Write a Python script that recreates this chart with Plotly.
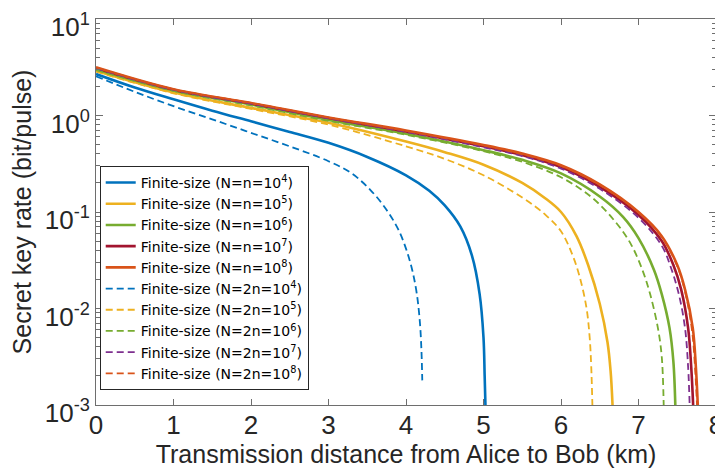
import plotly.graph_objects as go

# ---- data ----
d_n4 = [0, 0.5, 1, 1.5, 2, 2.5, 3, 3.5, 4, 4.3, 4.5, 4.7, 4.85, 4.95, 5.0, 5.015, 5.025]
r_n4 = [2.69, 1.95, 1.47, 1.12, 0.87, 0.676, 0.521, 0.372, 0.24, 0.166, 0.117, 0.0708, 0.0355, 0.0141, 0.005, 0.002, 0.001]

d_n5 = [0, 1, 2, 3, 4, 4.5, 5, 5.5, 5.8, 6.0, 6.2, 6.35, 6.5, 6.6, 6.64, 6.665]
r_n5 = [2.9, 1.73, 1.2, 0.841, 0.537, 0.417, 0.309, 0.2, 0.138, 0.1, 0.0562, 0.0282, 0.0112, 0.00447, 0.00224, 0.001]

d_n6 = [0, 1, 2, 3, 4, 5, 5.5, 6.0, 6.5, 6.8, 7.0, 7.2, 7.3, 7.4, 7.45, 7.475]
r_n6 = [3.0, 1.82, 1.3, 0.9, 0.646, 0.437, 0.347, 0.251, 0.145, 0.0891, 0.0537, 0.0251, 0.0141, 0.0063, 0.00282, 0.001]

d_n7 = [0, 1, 2, 3, 4, 5, 5.5, 6.0, 6.5, 7.0, 7.3, 7.45, 7.55, 7.64, 7.68, 7.705]
r_n7 = [3.09, 1.85, 1.33, 0.94, 0.684, 0.479, 0.389, 0.292, 0.182, 0.0933, 0.0501, 0.0282, 0.0158, 0.0063, 0.0025, 0.001]

d_n8 = [0, 1, 2, 3, 4, 5, 5.5, 6.0, 6.5, 7.0, 7.3, 7.5, 7.6, 7.7, 7.74, 7.765]
r_n8 = [3.16, 1.87, 1.35, 0.955, 0.7, 0.495, 0.403, 0.305, 0.193, 0.1, 0.0562, 0.0282, 0.0158, 0.0063, 0.0025, 0.001]

d_2n4 = [0, 0.5, 1, 1.5, 2, 2.5, 3, 3.3, 3.55, 3.75, 3.9, 4.0, 4.08, 4.14, 4.18, 4.2, 4.21]
r_2n4 = [2.55, 1.76, 1.25, 0.912, 0.661, 0.479, 0.336, 0.251, 0.166, 0.105, 0.066, 0.0417, 0.0251, 0.0141, 0.00708, 0.00355, 0.0018]

d_2n5 = [0, 1, 2, 3, 4, 4.5, 5, 5.5, 5.8, 6.0, 6.15, 6.25, 6.33, 6.37, 6.39, 6.405]
r_2n5 = [2.85, 1.7, 1.17, 0.804, 0.479, 0.355, 0.24, 0.141, 0.0933, 0.0631, 0.0355, 0.02, 0.01, 0.005, 0.0025, 0.001]

d_2n6 = [0, 1, 2, 3, 4, 5, 5.5, 6.0, 6.4, 6.7, 6.9, 7.05, 7.15, 7.25, 7.3, 7.325]
r_2n6 = [2.95, 1.8, 1.27, 0.879, 0.631, 0.427, 0.331, 0.229, 0.141, 0.0794, 0.0468, 0.0251, 0.0141, 0.0063, 0.00316, 0.001]

d_2n7 = [0, 1, 2, 3, 4, 5, 5.5, 6.0, 6.5, 7.0, 7.3, 7.42, 7.52, 7.6, 7.64, 7.66]
r_2n7 = [3.08, 1.84, 1.32, 0.933, 0.676, 0.468, 0.38, 0.282, 0.174, 0.0871, 0.0447, 0.0263, 0.0141, 0.0063, 0.0025, 0.001]

d_2n8 = [0, 1, 2, 3, 4, 5, 5.5, 6.0, 6.5, 7.0, 7.3, 7.5, 7.6, 7.69, 7.73, 7.755]
r_2n8 = [3.14, 1.87, 1.35, 0.951, 0.692, 0.488, 0.396, 0.301, 0.19, 0.0989, 0.055, 0.0275, 0.0151, 0.006, 0.0024, 0.001]

labels = [
    "Finite-size (N=n=10<sup>4</sup>)",
    "Finite-size (N=n=10<sup>5</sup>)",
    "Finite-size (N=n=10<sup>6</sup>)",
    "Finite-size (N=n=10<sup>7</sup>)",
    "Finite-size (N=n=10<sup>8</sup>)",
    "Finite-size (N=2n=10<sup>4</sup>)",
    "Finite-size (N=2n=10<sup>5</sup>)",
    "Finite-size (N=2n=10<sup>6</sup>)",
    "Finite-size (N=2n=10<sup>7</sup>)",
    "Finite-size (N=2n=10<sup>8</sup>)",
]

x_ticks = [0, 1, 2, 3, 4, 5, 6, 7, 8]
y_ticks = [1e-3, 1e-2, 1e-1, 1e0, 1e1]
y_ticktext = ["10<sup>-3</sup>", "10<sup>-2</sup>", "10<sup>-1</sup>", "10<sup>0</sup>", "10<sup>1</sup>"]

DASH = "7px,4px"
series = [
    (d_n4, r_n4, "#0072BD", "solid", 2.6),
    (d_n5, r_n5, "#EDB120", "solid", 2.6),
    (d_n6, r_n6, "#77AC30", "solid", 2.6),
    (d_n7, r_n7, "#A2142F", "solid", 2.6),
    (d_n8, r_n8, "#D95319", "solid", 2.6),
    (d_2n4, r_2n4, "#0072BD", DASH, 1.8),
    (d_2n5, r_2n5, "#EDB120", DASH, 1.8),
    (d_2n6, r_2n6, "#77AC30", DASH, 1.8),
    (d_2n7, r_2n7, "#7E2F8E", DASH, 1.8),
    (d_2n8, r_2n8, "#D95319", DASH, 1.8),
]

fig = go.Figure()
for (xs, ys, col, dash, w), name in zip(series, labels):
    fig.add_trace(go.Scatter(
        x=xs, y=ys, mode="lines", name=name,
        line=dict(color=col, dash=dash, width=w, shape="spline", smoothing=1.0),
    ))

minor_y = [m * 10 ** e for e in range(-3, 1) for m in range(2, 10)]

axis_col = "#6e6e6e"
txt_col = "#262626"
# the page places the figure 8px in from the window's top-left corner
fig.update_layout(
    width=715, height=460,
    margin=dict(l=88, r=7, t=11, b=63),
    paper_bgcolor="white", plot_bgcolor="white",
    font=dict(family="Liberation Sans, Arial, sans-serif", color=txt_col, size=22),
    showlegend=True,
    legend=dict(
        x=0.006, y=0.039, xanchor="left", yanchor="bottom",
        bgcolor="white", bordercolor="#262626", borderwidth=1,
        font=dict(family="DejaVu Sans, sans-serif", size=14, color="#000000"),
        tracegroupgap=0, itemwidth=30,
    ),
)
fig.update_xaxes(
    range=[0, 8], tickvals=x_ticks, ticktext=[str(v) for v in x_ticks],
    showgrid=False, zeroline=False, automargin=False, ticklabeloverflow="allow",
    showline=True, linecolor=axis_col, linewidth=1, mirror="ticks",
    ticks="inside", ticklen=6, tickcolor=axis_col,
    ticklabelstandoff=-3,
    tickfont=dict(size=26, color=txt_col),
    title=dict(text="Transmission distance from Alice to Bob (km)", font=dict(size=25, color=txt_col), standoff=0),
)
fig.update_yaxes(
    type="log", range=[-3, 1], tickvals=y_ticks, ticktext=y_ticktext,
    showgrid=False, zeroline=False, automargin=False, ticklabeloverflow="allow",
    showline=True, linecolor=axis_col, linewidth=1, mirror="ticks",
    ticks="inside", ticklen=7, tickcolor=axis_col,
    ticklabelshift=8,
    minor=dict(tickvals=minor_y, ticks="inside", ticklen=4, tickcolor=axis_col, showgrid=False),
    tickfont=dict(size=26, color=txt_col),
    title=dict(text="Secret key rate (bit/pulse)", font=dict(size=25, color=txt_col), standoff=14),
)

fig.write_html("out.html")
